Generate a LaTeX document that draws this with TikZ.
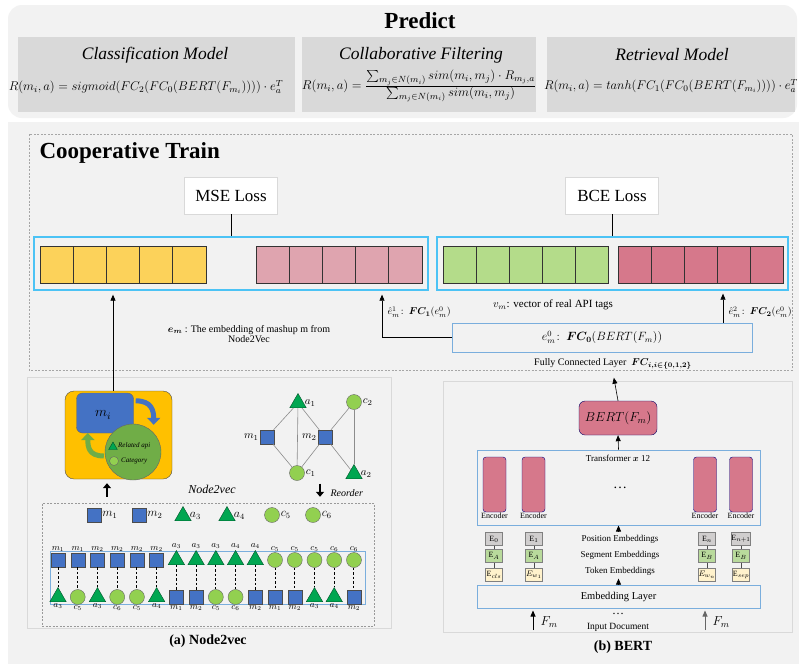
\RequirePackage{fix-cm}
\documentclass[tikz,border=0pt]{standalone}
\usepackage{fontspec}
\setmainfont{Liberation Serif}
\usepackage{amsmath,bm}
\usetikzlibrary{arrows.meta,shapes.geometric}

\definecolor{panelgray}{HTML}{F2F2F2}
\definecolor{boxgray}{HTML}{D9D9D9}
\definecolor{linecyan}{HTML}{4CC3F5}
\definecolor{lineblue}{HTML}{7AAEDD}
\definecolor{cellyellow}{HTML}{FCD25A}
\definecolor{cellpink}{HTML}{DFA4AF}
\definecolor{cellgreen}{HTML}{B4DC8A}
\definecolor{cellrose}{HTML}{D6788B}
\definecolor{nodeblue}{HTML}{4472C4}
\definecolor{trigreen}{HTML}{00A651}
\definecolor{dotgreen}{HTML}{92D050}
\definecolor{walkorange}{HTML}{FFC000}
\definecolor{ctxgreen}{HTML}{70AD47}
\definecolor{posgray}{HTML}{D0CECE}
\definecolor{seggreen}{HTML}{B9DA9C}
\definecolor{tokyellow}{HTML}{FFF2CC}
\newcommand{\fsz}[1]{\fontsize{#1}{#1}\selectfont}

\begin{document}
\begin{tikzpicture}[x=1pt,y=-1pt,>={Triangle[length=6pt,width=5pt]},
  lossbox/.style={draw=black!15,fill=white,minimum width=93pt,minimum height=37pt,font=\fsz{17}},
  vecbox/.style={draw=linecyan,line width=1.3pt,minimum height=53pt},
  cellline/.style={draw=black!80,line width=0.9pt},
  panel/.style={draw=black!15,line width=1pt},
  thinbox/.style={draw=lineblue,line width=1pt},
  mnode/.style={rectangle,draw=black!70,fill=nodeblue,minimum size=14pt,inner sep=0pt},
  anode/.style={regular polygon,regular polygon sides=3,draw=black!50!trigreen,fill=trigreen,minimum size=19pt,inner sep=0pt},
  cnode/.style={circle,draw=black!60,fill=dotgreen,minimum size=15pt,inner sep=0pt},
  glink/.style={draw=black!45,line width=0.6pt},
  fatarrow/.style={-{Triangle[length=5pt,width=8pt]},line width=2.5pt},
  enc/.style={draw=black!50!blue,fill=cellrose,rounded corners=3pt,minimum width=23pt,minimum height=55pt,inner sep=0pt},
  emb/.style={draw=black!50,minimum width=17pt,minimum height=13pt,inner sep=0pt,font=\fsz{8}},
  emblink/.style={draw=black!70,line width=0.6pt}]
\useasboundingbox (0,0) rectangle (799,664);
\fill[white] (0,0) rectangle (799,664);

% predict
\fill[panelgray,rounded corners=14pt] (8,5) rectangle (797,118);
\fill[boxgray] (18,37) rectangle (295,112);
\fill[boxgray] (302,37) rectangle (536,112);
\fill[boxgray] (547,37) rectangle (795,112);
\node[font=\fsz{23}\bfseries] (predict) at (420,21) {Predict};
\node[font=\fsz{17.5}\itshape] (clst) at (155,55) {Classification Model};
\node[font=\fsz{12.7}] (clsf) at (146,87) {$R(m_i,a)=sigmoid(FC_2(FC_0(BERT(F_{m_i}))))\cdot e_a^T$};
\node[font=\fsz{17.5}\itshape] (cft) at (421,55) {Collaborative Filtering};
\node[font=\fsz{12.8}] (cff) at (419,86) {$R(m_i,a)=\frac{\textstyle\sum_{m_j\in N(m_i)} sim(m_i,m_j)\cdot R_{m_j,a}}{\textstyle\sum_{m_j\in N(m_i)} sim(m_i,m_j)}$};
\node[font=\fsz{17.5}\itshape] (rett) at (672,55) {Retrieval Model};
\node[font=\fsz{12.6}] (retf) at (671,86) {$R(m_i,a)=tanh(FC_1(FC_0(BERT(F_{m_i}))))\cdot e_a^T$};

% cooperative train
\fill[panelgray] (8,122) rectangle (799,664);
\draw[black!35,dash pattern=on 2pt off 1.5pt] (29,134) rectangle (792,370);
\node[font=\fsz{23}\bfseries,anchor=west] (coop) at (36,153) {Cooperative Train};
\node[lossbox] (mse) at (231,195.5) {MSE Loss};
\node[lossbox] (bce) at (612,195.5) {BCE Loss};
\node[vecbox,minimum width=394pt] (vecA) at (231,263.5) {};
\node[vecbox,minimum width=351pt] (vecB) at (612.5,263.5) {};
\draw[line width=0.8pt] (mse.south) -- (mse.south |- vecA.north);
\draw[line width=0.8pt] (bce.south) -- (bce.south |- vecB.north);
\foreach \i in {0,...,4} {
  \draw[cellline,fill=cellyellow] (40+33.2*\i,246) rectangle +(33.2,37);
  \draw[cellline,fill=cellpink] (256+33.2*\i,246) rectangle +(33.2,37);
  \draw[cellline,fill=cellgreen] (443+33*\i,246) rectangle +(33,37);
  \draw[cellline,fill=cellrose] (618+33*\i,246) rectangle +(33,37);
}
\node[thinbox,minimum width=300pt,minimum height=29pt,font=\fsz{12}] (fc) at (602,337.5) {$e^0_m\!:\ \bm{FC_0}(BERT(F_m))$};
\coordinate (e1) at (382,0);
\coordinate (e2) at (723,0);
\coordinate (em) at (113,0);
\draw[->,line width=0.6pt,shorten >=4pt] (fc.west) -| (e1 |- vecA.south);
\draw[->,line width=0.6pt,shorten >=3pt] (fc.north -| e2) -- (e2 |- vecB.south);
\node[anchor=west,font=\fsz{10}] (h1) at (384,312) {$\hat e^1_m\!:\ \bm{FC_1}(e^0_m)$};
\node[anchor=west,font=\fsz{10}] (h2) at (725,312) {$\hat e^2_m\!:\ \bm{FC_2}(e^0_m)$};
\node[font=\fsz{10},align=center] (emtxt) at (249,334) {$\bm{e_m}$ : The embedding of mashup m from\\Node2Vec};
\node[font=\fsz{11}] (vm) at (553,305) {$v_m$: vector of real API tags};
\node[font=\fsz{10}] (fcl) at (613,364) {Fully Connected Layer \ $\bm{FC_{i,i\in\{0,1,2\}}}$};

% node2vec
\node[panel,fill=panelgray,minimum width=364pt,minimum height=251pt] (n2v) at (209,502.5) {};
\node[draw=black!70,fill=walkorange,rounded corners=9pt,minimum width=107pt,minimum height=88pt] (walk) at (118.5,435) {};
\node[draw=black!60,fill=nodeblue,rounded corners=6pt,minimum width=57pt,minimum height=40pt,font=\fsz{14}] (mi) at (105,413) {};
\node[font=\fsz{14}] (milbl) at (103,415) {$m_i$};
\draw[-{Triangle[length=7pt,width=13pt]},line width=5pt,nodeblue] ([shift={(2,8)}]mi.north east) .. controls +(16,0) and +(0,-14) .. ([shift={(20,32)}]mi.north east);
\node[circle,draw=black!60,fill=ctxgreen,minimum size=56pt] (ctx) at (133,452) {};
\draw[-{Triangle[length=7pt,width=13pt]},line width=5pt,ctxgreen] ([shift={(-1,4)}]ctx.west) .. controls +(-15,0) and +(0,14) .. ([shift={(-17,-19)}]ctx.west);
\node[anode,minimum size=10pt] (ra) at (113,447) {};
\node[anchor=west,font=\fsz{7}\itshape,inner sep=1pt] (ratxt) at (117,446) {Related api};
\node[cnode,minimum size=9pt] (ca) at (114,461) {};
\node[anchor=west,font=\fsz{7}\itshape,inner sep=1pt] (catxt) at (120,461) {Category};
\coordinate (up) at (107,0);
\coordinate (rd) at (320,0);

\begin{scope}[every label/.style={font=\fsz{11},inner sep=1pt}]
\node[anode,label={right:$a_1$}] (a1) at (298,403) {};
\node[cnode,label={right:$c_2$}] (c2) at (354,402) {};
\node[mnode,label={left:$m_1$}] (m1) at (267,437) {};
\node[mnode,label={left:$m_2$}] (m2) at (325,437) {};
\node[cnode,label={right:$c_1$}] (c1) at (297,473) {};
\node[anode,label={right:$a_2$}] (a2) at (354,474) {};
\end{scope}
\draw[glink] (a1) -- (m1);
\draw[glink] (a1) -- (c1);
\draw[glink] (a1) -- (m2);
\draw[glink] (c2) -- (m2);
\draw[glink] (c2) -- (a2);
\draw[glink] (m1) -- (c1);
\draw[glink] (m2) -- (c1);
\draw[glink] (m2) -- (a2);

\node[draw=black!40,dash pattern=on 2pt off 1.5pt,minimum width=332pt,minimum height=123pt] (walks) at (208,564.5) {};
\draw[fatarrow,shorten <=6pt,shorten >=4pt] (walks.north -| up) -- (up |- walk.south);
\draw[fatarrow,shorten <=3pt,shorten >=6pt] (rd |- c1.south) -- (rd |- walks.north);
\node[font=\fsz{12}\itshape] (n2vt) at (212,489) {Node2vec};
\node[anchor=west,font=\fsz{10}\itshape] (reord) at (327,493) {Reorder};
\draw[->,line width=0.8pt,shorten >=4pt] (walk.north -| em) -- (em |- vecA.south);

\begin{scope}[every label/.style={font=\fsz{12},inner sep=1pt}]
\node[mnode,label={right:$m_1$}] (l1) at (94,515) {};
\node[mnode,label={right:$m_2$}] (l2) at (139,515) {};
\node[anode,label={right:$a_3$}] (l3) at (183,516) {};
\node[anode,label={right:$a_4$}] (l4) at (227,516) {};
\node[cnode,label={right:$c_5$}] (l5) at (272,515) {};
\node[cnode,label={right:$c_6$}] (l6) at (313,515) {};
\end{scope}
\node[thinbox,minimum width=315pt,minimum height=53pt] (seq) at (207.5,577.5) {};
\begin{scope}[every label/.style={font=\fsz{9},inner sep=1pt}]
\foreach \ts/\tn/\bs/\bn [count=\k from 0] in {mnode/m_1/anode/a_3,mnode/m_1/cnode/c_5,mnode/m_2/anode/a_3,mnode/m_2/cnode/c_6,
  mnode/m_2/cnode/c_5,mnode/m_2/anode/a_4,anode/a_3/mnode/m_1,anode/a_3/mnode/m_2,anode/a_3/cnode/c_5,anode/a_4/cnode/c_6,
  anode/a_4/mnode/m_2,cnode/c_5/mnode/m_1,cnode/c_5/mnode/m_2,cnode/c_5/anode/a_3,cnode/c_6/anode/a_4,cnode/c_6/mnode/m_2} {
  \node[\ts,label={above:$\tn$}] (t\k) at (58+19.73*\k,560) {};
  \node[\bs,label={below:$\bn$}] (b\k) at (58+19.73*\k,597) {};
  \draw[line width=1pt,dash pattern=on 2.5pt off 2pt] (t\k) -- (b\k);
}
\end{scope}
\node[font=\fsz{14}\bfseries] (capa) at (208,641) {(a) Node2vec};

% bert
\node[panel,fill=panelgray,minimum width=349pt,minimum height=251pt] (bp) at (617.5,506.5) {};
\node[draw=black!60!blue,fill=cellrose,rounded corners=6pt,minimum width=78pt,minimum height=34pt,font=\fsz{13}] (bert) at (618,418) {$BERT(F_m)$};
\draw[->,line width=0.6pt,shorten >=5pt] (bert.north) -- (fcl.south);
\node[thinbox,minimum width=283pt,minimum height=75pt] (trf) at (618.5,487.5) {};
\draw[->,line width=0.6pt] (trf.north) -- (bert.south);
\node[font=\fsz{9}] (trft) at (618,458) {Transformer $\bm{x}$ 12};
\foreach \x [count=\i] in {494.5,533.5,705,741}
  \node[enc,label={[font=\fsz{8},inner sep=0.5pt]below:Encoder}] (enc\i) at (\x,484.5) {};
\node[font=\fsz{14}] (edots) at (620,488) {\dots};
\foreach \x/\p/\s/\t [count=\i] in {494/E$_0$/E$_A$/E$_{cls}$,534/E$_1$/E$_A$/$E_{w_1}$,707/E$_n$/E$_B$/$E_{w_n}$,741/E$_{n+1}$/E$_B$/E$_{sep}$} {
  \node[emb,fill=posgray] (p\i) at (\x,539) {\p};
  \node[emb,fill=seggreen] (s\i) at (\x,556) {\s};
  \node[emb,fill=tokyellow] (k\i) at (\x,575) {\t};
  \draw[emblink] (p\i) -- (s\i);
  \draw[emblink] (s\i) -- (k\i);
}
\node[font=\fsz{9}] (post) at (620,539) {Position Embeddings};
\node[font=\fsz{9}] (segt) at (620,555) {Segment Embeddings};
\node[font=\fsz{9}] (tokt) at (620,571) {Token Embeddings};
\draw[->,line width=0.6pt] (post.north -| trf.north) -- (trf.south);
\node[thinbox,minimum width=283pt,minimum height=23pt,font=\fsz{10.5}] (elay) at (618.5,596.5) {Embedding Layer};
\draw[->,line width=0.6pt] (elay.north) -- (tokt.south -| elay.north);
\coordinate (f1) at (533,630);
\coordinate (f2) at (705,630);
\draw[->,line width=0.8pt,shorten >=2pt] (f1) -- (f1 |- elay.south);
\draw[->,line width=0.8pt,black!60,shorten >=2pt] (f2) -- (f2 |- elay.south);
\node[anchor=west,font=\fsz{13}] (fm1) at (537,622) {$F_m$};
\node[anchor=west,font=\fsz{13}] (fm2) at (709,622) {$F_m$};
\node[font=\fsz{12}] (idots) at (618,614) {\dots};
\node[font=\fsz{9.5}] (indoc) at (618,627) {Input Document};
\node[font=\fsz{14}\bfseries] (capb) at (623,647) {(b) BERT};
\end{tikzpicture}
\end{document}
